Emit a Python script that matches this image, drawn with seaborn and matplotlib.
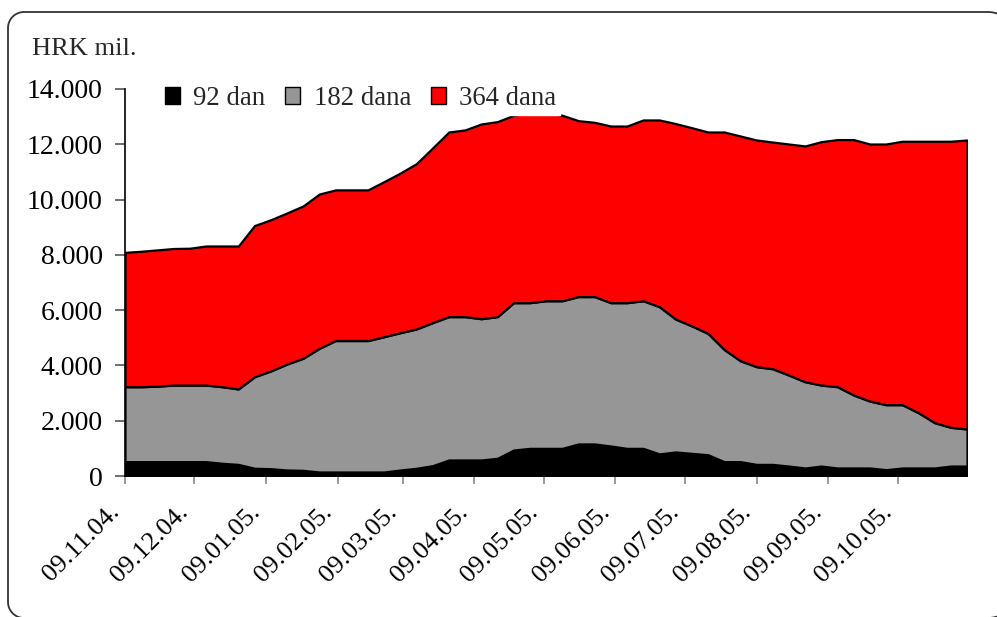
import numpy as np
import pandas as pd
import matplotlib
matplotlib.use("Agg")
import matplotlib.pyplot as plt
import matplotlib.dates as mdates
import matplotlib.transforms as mtransforms
from matplotlib.ticker import FuncFormatter, MultipleLocator
from matplotlib.patches import Patch, PathPatch
from matplotlib.path import Path
import seaborn as sns

# ---- data (HRK mil.), weekly auctions from 09.11.2004 ----
start_date = "2004-11-09"
n_weeks = 53
series_names = ["92 dan", "182 dana", "364 dana"]

d92 = [520, 520, 520, 520, 520, 520, 460, 420, 280, 265, 217, 205, 145, 145, 145, 145,
       145, 217, 280, 375, 580, 580, 580, 640, 940, 1000, 1000, 1000, 1160, 1160, 1085,
       1000, 1000, 800, 870, 820, 770, 520, 520, 420, 420, 360, 290, 360, 290, 290, 290,
       230, 290, 290, 290, 360, 360]
cum_182 = [3230, 3230, 3250, 3290, 3290, 3290, 3230, 3150, 3590, 3800, 4050, 4260, 4620,
           4900, 4900, 4900, 5040, 5185, 5320, 5550, 5765, 5765, 5690, 5765, 6270, 6270,
           6340, 6340, 6490, 6490, 6270, 6270, 6340, 6125, 5680, 5430, 5160, 4580, 4170,
           3955, 3880, 3650, 3410, 3290, 3230, 2930, 2710, 2580, 2580, 2290, 1930, 1760,
           1700]
total = [8090, 8130, 8180, 8230, 8240, 8320, 8320, 8320, 9060, 9270, 9515, 9770, 10200,
         10350, 10350, 10350, 10650, 10960, 11300, 11870, 12445, 12520, 12735, 12820,
         13050, 13150, 13150, 13050, 12855, 12795, 12660, 12660, 12880, 12880, 12750,
         12600, 12445, 12445, 12300, 12156, 12080, 12010, 11940, 12095, 12170, 12170,
         12010, 12010, 12110, 12110, 12110, 12110, 12155]

d92 = np.array(d92, dtype=float)
d182 = np.array(cum_182, dtype=float) - d92
d364 = np.array(total, dtype=float) - np.array(cum_182, dtype=float)
dates = pd.date_range(start_date, periods=n_weeks, freq="7D")

colors = ["#000000", "#969696", "#FF0000"]

sns.set_theme(style="ticks")
plt.rcParams["font.family"] = ["Liberation Serif", "DejaVu Serif"]

FS = 20
W, H = 997, 617
fig = plt.figure(figsize=(W / 100, H / 100), dpi=100)
ax = fig.add_axes([125 / W, 1 - 476 / H, (967 - 125) / W, (476 - 89) / H])

ax.stackplot(dates, d92, d182, d364, colors=colors, edgecolor="black",
             linewidth=1.6, labels=series_names)

ax.set_ylim(0, 14000)
ax.set_xlim(dates[0], dates[-1])
ax.yaxis.set_major_locator(MultipleLocator(2000))
ax.yaxis.set_major_formatter(FuncFormatter(
    lambda v, p: "0" if v == 0 else f"{int(v):,}".replace(",", ".")))
ax.xaxis.set_major_locator(mdates.MonthLocator(bymonthday=9))
ax.xaxis.set_major_formatter(mdates.DateFormatter("%d.%m.%y."))

ax.tick_params(axis="y", direction="out", length=7, width=1.2, color="#555555",
               labelsize=FS, pad=9, labelcolor="black")
ax.tick_params(axis="x", direction="out", length=6, width=1.2, color="#888888",
               labelsize=19, pad=4, labelcolor="black")
offset = mtransforms.ScaledTranslation(-0.17, -0.11, fig.dpi_scale_trans)
for lab in ax.get_xticklabels():
    lab.set_rotation(45)
    lab.set_ha("right")
    lab.set_va("top")
    lab.set_rotation_mode("anchor")
    lab.set_transform(lab.get_transform() + offset)

sns.despine(ax=ax, top=True, right=True)
for s in ("left", "bottom"):
    ax.spines[s].set_color("black")
    ax.spines[s].set_linewidth(1.2)
ax.set_facecolor("white")
ax.grid(False)

handles = [Patch(facecolor=c, edgecolor="black", linewidth=1.0) for c in colors]
leg = ax.legend(handles, series_names, loc="upper left", ncol=3,
                bbox_to_anchor=(161 / W, 1 - 82 / H), bbox_transform=fig.transFigure,
                fontsize=19.3, frameon=True, facecolor="white", edgecolor="white",
                framealpha=1, fancybox=False, borderpad=0.15, handlelength=0.55,
                handleheight=0.55, handletextpad=0.5, columnspacing=0.75,
                borderaxespad=0)

fig.text(32 / W, 1 - 55 / H, "HRK mil.", fontsize=19, va="baseline", ha="left")

# rounded chart-area border (display pixel coords, origin bottom-left);
# right side lies outside the image, only its top-right bend shows
x0, x1, y0, y1 = 8.0, 1016.0, -1.0, 605.0
rl, rr = 16.0, 28.0
t = np.linspace(0, np.pi / 2, 16)
pts = []
pts += list(zip(x1 - rr + rr * np.cos(t), y1 - rr + rr * np.sin(t)))        # top-right
pts += list(zip(x0 + rl - rl * np.sin(t), y1 - rl + rl * np.cos(t)))        # top-left
pts += list(zip(x0 + rl - rl * np.cos(t), y0 + rl - rl * np.sin(t)))        # bottom-left
pts += list(zip(x1 - rr + rr * np.sin(t), y0 + rr - rr * np.cos(t)))        # bottom-right
pts.append(pts[0])
border = PathPatch(Path(np.array(pts)), transform=mtransforms.IdentityTransform(),
                   facecolor="none", edgecolor="#333333", linewidth=1.3)
fig.add_artist(border)

fig.savefig("out.png", dpi=100)
